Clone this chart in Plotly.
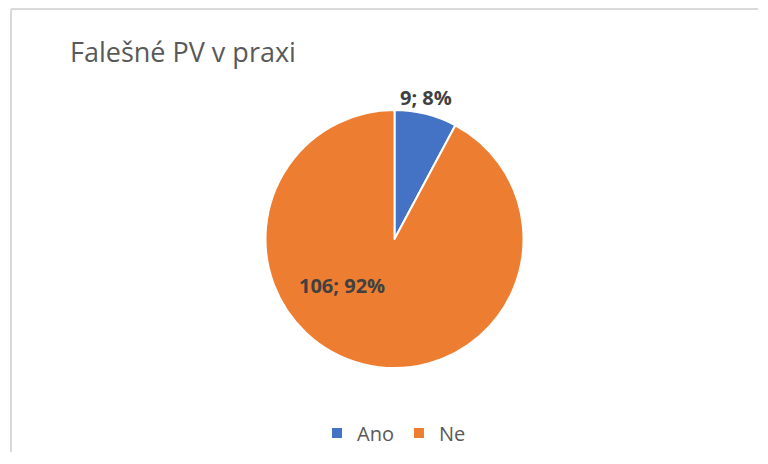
import plotly.graph_objects as go

title_text = "Falešné PV v praxi"
labels = ["Ano", "Ne"]
values = [9, 106]
colors = ["#4472C4", "#ED7D31"]

total = sum(values)
pcts = [round(v * 100 / total) for v in values]
label_texts = [f"{v}; {p}%" for v, p in zip(values, pcts)]

# figure sits inside the page's 8px body margin; keep it small enough to avoid scrollbars
W, H = 750, 444
OFF = 8


def px(x):
    return (x - OFF) / W


def py(y):
    return 1 - (y - OFF) / H


fig = go.Figure(go.Pie(
    labels=labels,
    values=values,
    marker=dict(colors=colors, line=dict(color="white", width=2)),
    sort=False,
    direction="clockwise",
    rotation=0,
    textinfo="none",
    hoverinfo="label+value+percent",
    domain=dict(x=[px(265), px(524)], y=[py(368), py(110)]),
))

label_pos = [(426, 97), (342, 285)]
annotations = [
    dict(text=f"<b>{t}</b>", x=px(x), y=py(y), xref="paper", yref="paper",
         showarrow=False, xanchor="center", yanchor="middle",
         font=dict(family="Open Sans", size=20, color="#404040"))
    for t, (x, y) in zip(label_texts, label_pos)
]
annotations.append(dict(
    text=title_text, x=px(68), y=py(52), xref="paper", yref="paper",
    showarrow=False, xanchor="left", yanchor="middle",
    font=dict(family="Open Sans", size=27, color="#595959"),
))

border = dict(color="#D9D9D9", width=2)
fig.update_layout(
    width=W, height=H,
    margin=dict(l=0, r=0, t=0, b=0, autoexpand=False),
    paper_bgcolor="white",
    plot_bgcolor="white",
    showlegend=True,
    legend=dict(orientation="h", x=px(394), xanchor="center", y=py(433), yanchor="middle",
                font=dict(family="Open Sans", size=20, color="#595959"),
                itemwidth=30, tracegroupgap=0),
    annotations=annotations,
    shapes=[
        dict(type="line", xref="paper", yref="paper",
             x0=px(11), x1=px(11), y0=0, y1=py(9), line=border),
        dict(type="line", xref="paper", yref="paper",
             x0=px(11), x1=1, y0=py(9), y1=py(9), line=border),
    ],
)

fig.write_html("out.html")
